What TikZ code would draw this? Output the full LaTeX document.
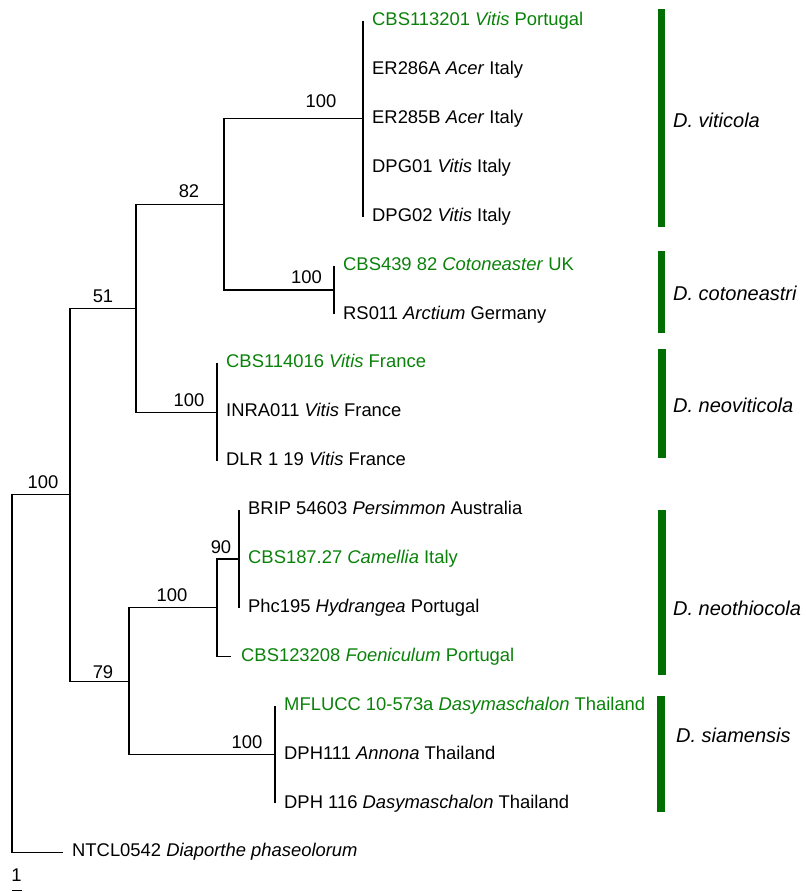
\documentclass[tikz,border=0pt]{standalone}
\usepackage{fontspec}
\setmainfont{Liberation Sans}
\definecolor{tgreen}{RGB}{10,130,10}
\definecolor{bgreen}{RGB}{0,110,0}
\begin{document}
\begin{tikzpicture}[x=1pt,y=-1pt,
  branch/.style={line width=1.2pt, black},
  leaf/.style={anchor=base west, inner sep=0pt, font=\fontsize{18.4}{20}\selectfont},
  refleaf/.style={leaf, text=tgreen},
  boot/.style={inner sep=0pt, font=\fontsize{18.4}{20}\selectfont},
  cladebar/.style={fill=bgreen, draw=none},
  clade/.style={anchor=base west, inner sep=0pt, font=\fontsize{20}{22}\selectfont\itshape}]
\useasboundingbox (0,0) rectangle (806,892);

% internal nodes
\coordinate (root) at (12,673.5);
\coordinate (nA) at (70,494.7);
\coordinate (n51) at (136,308.3);
\coordinate (n82) at (224,204.4);
\coordinate (nVit) at (363,118.8);
\coordinate (nCot) at (334,290);
\coordinate (nNeovit) at (217,412.2);
\coordinate (n79) at (129,681.2);
\coordinate (nNeoth) at (217,607.8);
\coordinate (n90) at (239,558.9);
\coordinate (nSiam) at (275,754.5);

% leaf tips
\coordinate (p0) at (363,21.0);
\coordinate (p1) at (363,69.9);
\coordinate (p2) at (363,118.8);
\coordinate (p3) at (363,167.7);
\coordinate (p4) at (363,216.6);
\coordinate (p5) at (334,265.5);
\coordinate (p6) at (334,314.4);
\coordinate (p7) at (217,363.3);
\coordinate (p8) at (217,412.2);
\coordinate (p9) at (217,461.1);
\coordinate (p10) at (239,510.0);
\coordinate (p11) at (239,558.9);
\coordinate (p12) at (239,607.8);
\coordinate (p13) at (231,656.7);
\coordinate (p14) at (275,705.6);
\coordinate (p15) at (275,754.5);
\coordinate (p16) at (275,803.4);
\coordinate (p17) at (63,852.3);

% branches
\draw[branch] (root) |- (nA);
\draw[branch] (root) |- (p17);
\draw[branch] (nA) |- (n51);
\draw[branch] (nA) |- (n79);
\draw[branch] (n51) |- (n82);
\draw[branch] (n51) |- (nNeovit);
\draw[branch] (n82) |- (nVit);
\draw[branch] (n82) |- (nCot);
\draw[branch] (nVit) -- (p0);
\draw[branch] (nVit) -- (p4);
\draw[branch] (nCot) -- (p5);
\draw[branch] (nCot) -- (p6);
\draw[branch] (nNeovit) -- (p7);
\draw[branch] (nNeovit) -- (p9);
\draw[branch] (n79) |- (nNeoth);
\draw[branch] (n79) |- (nSiam);
\draw[branch] (nNeoth) |- (n90);
\draw[branch] (nNeoth) |- (p13);
\draw[branch] (n90) -- (p10);
\draw[branch] (n90) -- (p12);
\draw[branch] (nSiam) -- (p14);
\draw[branch] (nSiam) -- (p16);

% leaf labels
\node[refleaf] (t0) at (372,25.6) {CBS113201 \textit{Vitis} Portugal};
\node[leaf] (t1) at (372,74.5) {ER286A \textit{Acer} Italy};
\node[leaf] (t2) at (372,123.4) {ER285B \textit{Acer} Italy};
\node[leaf] (t3) at (372,172.3) {DPG01 \textit{Vitis} Italy};
\node[leaf] (t4) at (372,221.2) {DPG02 \textit{Vitis} Italy};
\node[refleaf] (t5) at (343,270.1) {CBS439 82 \textit{Cotoneaster} UK};
\node[leaf] (t6) at (343,319.0) {RS011 \textit{Arctium} Germany};
\node[refleaf] (t7) at (226,367.9) {CBS114016 \textit{Vitis} France};
\node[leaf] (t8) at (226,416.8) {INRA011 \textit{Vitis} France};
\node[leaf] (t9) at (226,465.7) {DLR 1 19 \textit{Vitis} France};
\node[leaf] (t10) at (248,514.6) {BRIP 54603 \textit{Persimmon} Australia};
\node[refleaf] (t11) at (248,563.5) {CBS187.27 \textit{Camellia} Italy};
\node[leaf] (t12) at (248,612.4) {Phc195 \textit{Hydrangea} Portugal};
\node[refleaf] (t13) at (241,661.3) {CBS123208 \textit{Foeniculum} Portugal};
\node[refleaf] (t14) at (284,710.2) {MFLUCC 10-573a \textit{Dasymaschalon} Thailand};
\node[leaf] (t15) at (284,759.1) {DPH111 \textit{Annona} Thailand};
\node[leaf] (t16) at (284,808.0) {DPH 116 \textit{Dasymaschalon} Thailand};
\node[leaf] (t17) at (72,856.9) {NTCL0542 \textit{Diaporthe phaseolorum}};

% bootstrap values
\node[boot] (bVit) at (321,101.5) {100};
\node[boot] (b82) at (189,191) {82};
\node[boot] (bCot) at (306.5,277) {100};
\node[boot] (b51) at (103,296) {51};
\node[boot] (bNeovit) at (189,400) {100};
\node[boot] (bA) at (43,482) {100};
\node[boot] (b79) at (103,672) {79};
\node[boot] (bNeoth) at (172,595) {100};
\node[boot] (b90) at (221,547.5) {90};
\node[boot] (bSiam) at (247,742) {100};

% clade bars
\fill[cladebar] (657.5,9) rectangle (665,227);
\fill[cladebar] (657.5,251) rectangle (665,333);
\fill[cladebar] (657.5,349) rectangle (665.5,458);
\fill[cladebar] (657.5,510) rectangle (665.5,675);
\fill[cladebar] (657,696) rectangle (665,812);

% clade labels
\node[clade] (cVit) at (673,127) {D. viticola};
\node[clade] (cCot) at (673,300) {D. cotoneastri};
\node[clade] (cNeovit) at (673,412) {D. neoviticola};
\node[clade] (cNeoth) at (673,615) {D. neothiocola};
\node[clade] (cSiam) at (676,742) {D. siamensis};

% scale bar
\node[boot] (scl) at (16.5,875) {1};
\coordinate (s0) at (12,890.5);
\coordinate (s1) at (22,890.5);
\draw[branch] (s0) -- (s1);
\end{tikzpicture}
\end{document}
